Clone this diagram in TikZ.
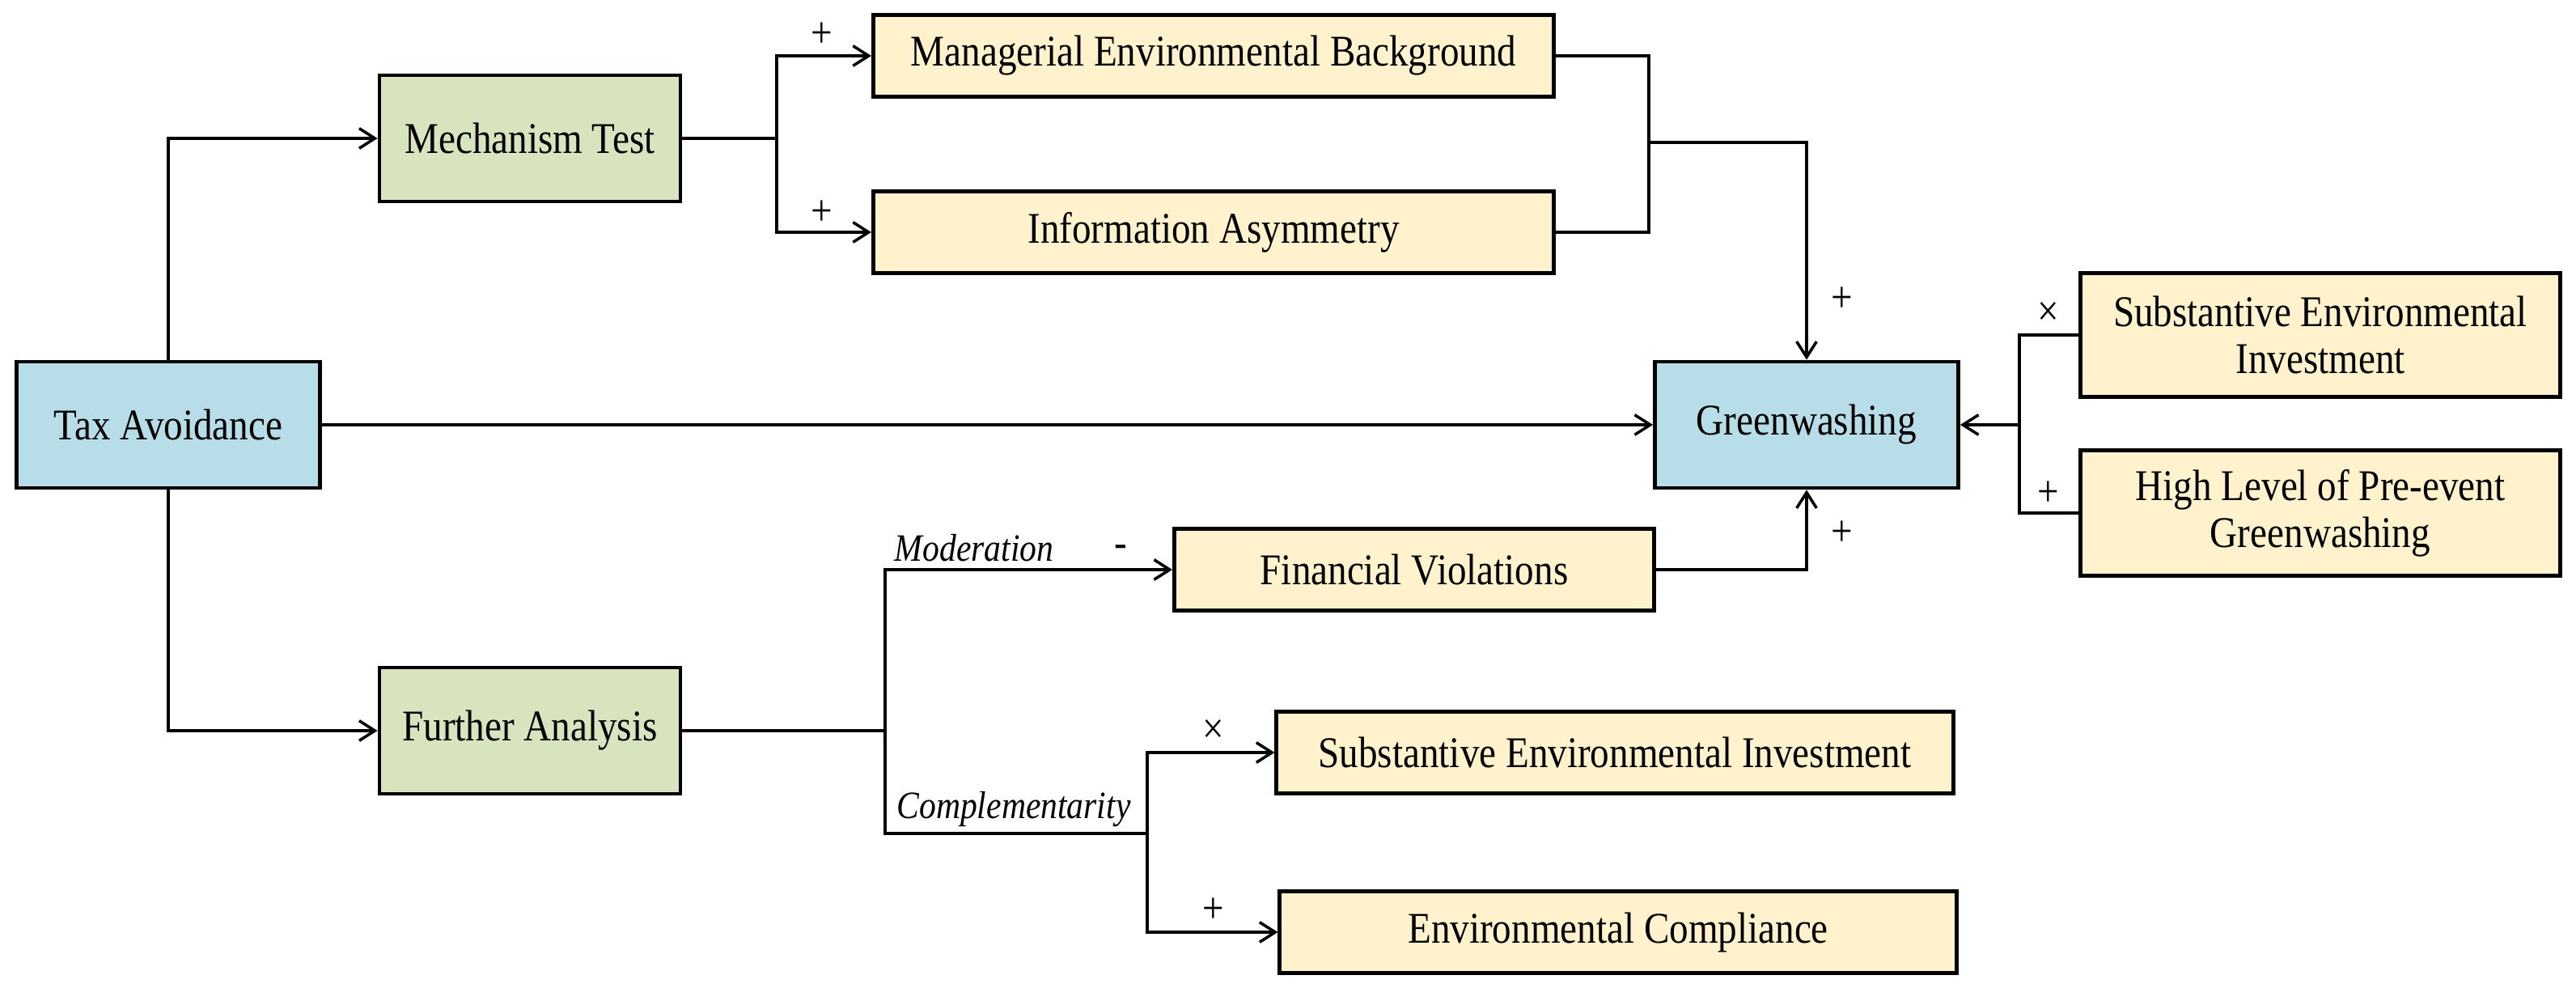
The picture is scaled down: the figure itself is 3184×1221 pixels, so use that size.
\documentclass[tikz,border=0pt]{standalone}
\usepackage{fontspec}
\setmainfont{Liberation Serif}[FakeStretch=0.87]
\usetikzlibrary{arrows.meta}
\definecolor{keyblue}{RGB}{183,221,232}
\definecolor{testgreen}{RGB}{215,228,189}
\definecolor{factoryellow}{RGB}{255,242,204}
\tikzset{
    every node/.style={font=\fontsize{15.4}{16.6}\selectfont, inner sep=0pt}
}
\tikzset{
    box/.style={rectangle, draw, line width=1.3pt, align=center},
    keybox/.style={box, fill=keyblue, minimum width=3.75cm, minimum height=1.56cm},
    testbox/.style={box, fill=testgreen, minimum width=3.72cm, minimum height=1.56cm},
    factorbox/.style={box, fill=factoryellow, minimum height=1.01cm},
    route/.style={font=\fontsize{13.6}{15}\selectfont\itshape}
}

\begin{document}
\begin{tikzpicture}[x=0.01cm, y=-0.01cm, line width=1pt,
    >={Straight Barb[length=5.5pt,width=7pt]}]
	\useasboundingbox (0,0) rectangle (3184,1221);
	\node[keybox] (tax) at (208,525) {Tax Avoidance};
	\node[testbox] (mech) at (655,171) {Mechanism Test};
	\node[testbox] (fur) at (655,903) {Further Analysis};
	\node[factorbox, minimum width=8.41cm] (mgr) at (1500,69) {Managerial Environmental Background};
	\node[factorbox, minimum width=8.41cm] (info) at (1500,287) {Information Asymmetry};
	\node[keybox] (gw) at (2233,525) {Greenwashing};
	\node[factorbox, minimum width=5.93cm, minimum height=1.53cm] (sei) at (2868,414) {Substantive Environmental\\Investment};
	\node[factorbox, minimum width=5.93cm, minimum height=1.55cm] (high) at (2868,634) {High Level of Pre-event\\Greenwashing};
	\node[factorbox, minimum width=5.93cm] (fv) at (1748,704) {Financial Violations};
	\node[factorbox, minimum width=8.36cm] (sub) at (1996,930) {Substantive Environmental Investment};
	\node[factorbox, minimum width=8.36cm] (comp) at (2000,1152) {Environmental Compliance};
	\coordinate (m) at (960,171);
	\coordinate (n) at (2038,176);
	\coordinate (r) at (2496,525);
	\coordinate (f) at (1094,903);
	\coordinate (c) at (1418,1030);
	\draw[->] (tax.north) |- (mech.west);
	\draw[->] (tax.south) |- (fur.west);
	\draw[->] (tax.east) -- (gw.west);
	\draw (mech.east) -- (m);
	\draw[->] (m) |- (mgr.west); \draw[->] (m) |- (info.west);
	\draw (mgr.east) -| (n); \draw (info.east) -| (n);
	\draw[->] (n) -| (gw.north);
	\draw (sei.west) -| (r); \draw (high.west) -| (r);
	\draw[->] (r) -- (gw.east);
	\draw (fur.east) -- (f);
	\draw[->] (f) |- (fv.west);
	\draw (f) |- (c);
	\draw[->] (c) |- (sub.west); \draw[->] (c) |- (comp.west);
	\draw[->] (fv.east) -| (gw.south);
	\node (p1) at (1016,43) {+};
	\node (p2) at (1016,263) {+};
	\node (p3) at (2277,370) {+};
	\node (p4) at (2277,659) {+};
	\node (x1) at (2532,388) {×};
	\node (p5) at (2532,610) {+};
	\node[route] (mod) at (1204,677) {Moderation};
	\node (minus) at (1385,681) {-};
	\node[route] (cmp) at (1253,1000) {Complementarity};
	\node (x2) at (1500,904) {×};
	\node (p6) at (1500,1125) {+};
\end{tikzpicture}
\end{document}
